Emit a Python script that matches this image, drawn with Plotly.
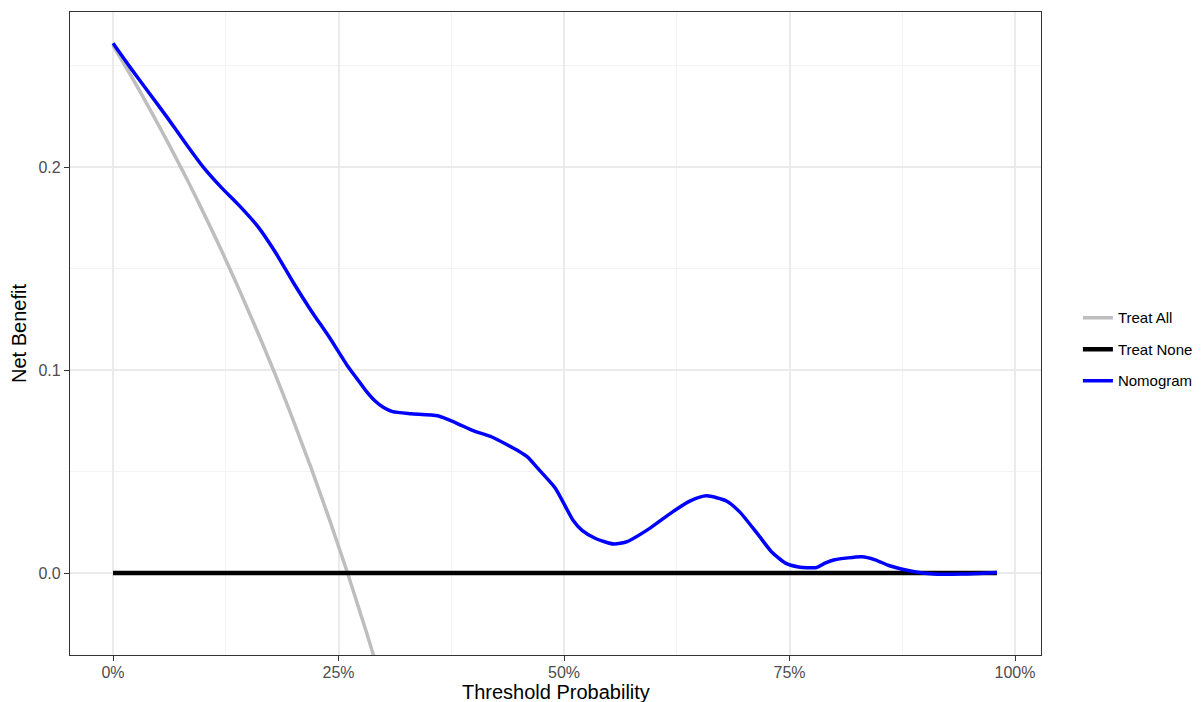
import plotly.graph_objects as go

# Threshold probabilities and net benefit values
nomo_x = [0.00, 0.02, 0.04, 0.06, 0.08, 0.10, 0.12, 0.14, 0.16, 0.18, 0.20, 0.22,
          0.24, 0.26, 0.27, 0.28, 0.29, 0.30, 0.31, 0.33, 0.36, 0.38, 0.40, 0.42,
          0.45, 0.46, 0.47, 0.49, 0.51, 0.52, 0.535, 0.555, 0.57, 0.595, 0.62,
          0.64, 0.658, 0.68, 0.695, 0.715, 0.73, 0.745, 0.76, 0.78, 0.79, 0.80,
          0.83, 0.845, 0.86, 0.89, 0.91, 0.94, 0.96, 0.98]
nomo_y = [0.261, 0.2485, 0.2365, 0.2245, 0.212, 0.200, 0.190, 0.181, 0.171, 0.158,
          0.143, 0.129, 0.116, 0.102, 0.096, 0.090, 0.085, 0.0815, 0.0795, 0.0785,
          0.0775, 0.074, 0.070, 0.067, 0.060, 0.057, 0.052, 0.042, 0.026, 0.021,
          0.017, 0.0143, 0.0155, 0.022, 0.030, 0.0355, 0.038, 0.0355, 0.030, 0.019,
          0.0105, 0.005, 0.003, 0.0027, 0.005, 0.0065, 0.008, 0.0065, 0.0037,
          0.0005, -0.0005, -0.0005, -0.0002, 0.0002]

all_x = [0.00, 0.02, 0.04, 0.06, 0.08, 0.10, 0.12, 0.14, 0.16, 0.18, 0.20, 0.22,
         0.24, 0.26, 0.28, 0.30]
all_y = [0.260, 0.2449, 0.2292, 0.2128, 0.1957, 0.1778, 0.1591, 0.1395, 0.1190,
         0.0976, 0.075, 0.0513, 0.0263, 0.0, -0.0278, -0.0571]

none_x = [0.00, 0.98]
none_y = [0.0, 0.0]

x_ticks = [0, 0.25, 0.5, 0.75, 1.0]
x_tick_labels = ["0%", "25%", "50%", "75%", "100%"]
y_ticks = [0.0, 0.1, 0.2]
y_tick_labels = ["0.0", "0.1", "0.2"]

fig = go.Figure()
fig.add_trace(go.Scatter(x=all_x, y=all_y, mode="lines", name="Treat All", legendgroup="a",
                         line=dict(color="#BEBEBE", width=3.5, shape="spline")))
fig.add_trace(go.Scatter(x=none_x, y=none_y, mode="lines", name="Treat None", legendgroup="b",
                         line=dict(color="#000000", width=4.5)))
fig.add_trace(go.Scatter(x=nomo_x, y=nomo_y, mode="lines", name="Nomogram", legendgroup="c",
                         line=dict(color="#0000FF", width=3.5, shape="spline", smoothing=0.6)))

axis_common = dict(showline=True, mirror=True, linecolor="#333333", linewidth=1.2,
                   ticks="outside", ticklen=5, tickcolor="#333333",
                   tickfont=dict(size=16, color="#4D4D4D"),
                   gridcolor="#EBEBEB", gridwidth=1.8, zeroline=False)

fig.update_xaxes(range=[-0.0477, 1.0288], tickvals=x_ticks, ticktext=x_tick_labels,
                 ticklabelstandoff=-2,
                 minor=dict(tickvals=[0.125, 0.375, 0.625, 0.875], showgrid=True,
                            gridcolor="#F3F3F3", gridwidth=0.9, ticks=""),
                 **axis_common)
fig.update_yaxes(range=[-0.0404, 0.2764], tickvals=y_ticks, ticktext=y_tick_labels,
                 title=dict(text="Net Benefit", font=dict(size=20, color="#000000"), standoff=6),
                 minor=dict(tickvals=[0.05, 0.15, 0.25], showgrid=True,
                            gridcolor="#F3F3F3", gridwidth=0.9, ticks=""),
                 **axis_common)

fig.add_annotation(text="Threshold Probability", xref="paper", yref="paper",
                   x=0.5, y=-0.0373, xanchor="center", yanchor="top", showarrow=False,
                   font=dict(size=20, color="#000000"))

fig.update_layout(
    width=1203, height=702,
    margin=dict(l=62, r=170, t=4, b=55, autoexpand=False),
    plot_bgcolor="white", paper_bgcolor="white",
    font=dict(family="Liberation Sans, Arial, sans-serif"),
    legend=dict(x=1.038, xanchor="left", y=0.4753, yanchor="middle",
                font=dict(size=15, color="#000000"), tracegroupgap=9,
                itemwidth=30, bgcolor="rgba(0,0,0,0)"),
)

fig.write_html("out.html")
